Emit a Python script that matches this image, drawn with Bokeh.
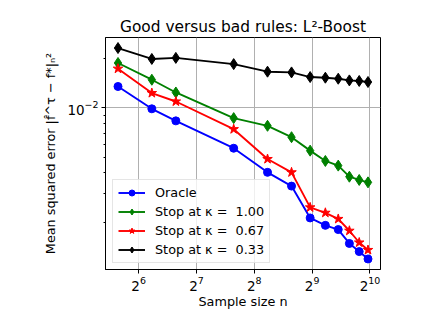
import numpy as np
from bokeh.plotting import figure
from bokeh.models import Range1d, LogTicker, LogTickFormatter, FixedTicker, Legend, LegendItem
from bokeh.embed import file_html
from bokeh.resources import INLINE

# ---- data ----
sample_sizes = [50, 75, 100, 200, 300, 400, 500, 600, 700, 800, 900, 1000]
oracle = [0.0135, 0.00986, 0.00832, 0.00566, 0.00403, 0.00332, 0.00212, 0.00191, 0.00180, 0.00148, 0.00132, 0.00119]
kappa_100 = [0.0188, 0.01485, 0.01241, 0.00865, 0.00776, 0.00661, 0.00547, 0.00473, 0.00443, 0.00379, 0.00362, 0.00350]
kappa_067 = [0.01735, 0.01231, 0.01093, 0.00740, 0.00486, 0.00403, 0.00246, 0.00228, 0.00209, 0.00177, 0.00150, 0.00135]
kappa_033 = [0.0232, 0.0199, 0.0202, 0.0185, 0.01663, 0.01646, 0.01542, 0.01528, 0.01506, 0.01471, 0.01459, 0.01438]

series_labels = ["Oracle", "Stop at κ =  1.00", "Stop at κ =  0.67", "Stop at κ =  0.33"]
series_values = [oracle, kappa_100, kappa_067, kappa_033]
series_colors = ["#0000ff", "#008000", "#ff0000", "#000000"]
series_markers = ["circle", "diamond", "star", "diamond"]
series_sizes = [8, 11, 10, 11]

y_major_ticks = [0.01]
y_minor_ticks = [0.002, 0.003, 0.004, 0.005, 0.006, 0.007, 0.008, 0.009, 0.02]

FONT = "DejaVu Sans"


def log_range(vals, base, margin=0.05):
    lo = np.log(min(vals)) / np.log(base)
    hi = np.log(max(vals)) / np.log(base)
    m = margin * (hi - lo)
    return Range1d(base ** (lo - m), base ** (hi + m))


all_y = [v for s in series_values for v in s]

p = figure(
    x_axis_type="log", y_axis_type="log",
    x_range=log_range(sample_sizes, 2), y_range=log_range(all_y, 10),
    frame_width=275, frame_height=232,
    min_border_left=105, min_border_right=35, min_border_top=37, min_border_bottom=40,
    output_backend="svg", toolbar_location=None,
    background_fill_color="white", border_fill_color="white",
)

p.title.text = "Good versus bad rules: L²-Boost"
p.title.text_font = FONT
p.title.text_font_size = "15.4px"
p.title.text_font_style = "normal"
p.title.align = "center"
p.title.text_color = "black"
p.title.standoff = 4

p.outline_line_color = "black"
p.outline_line_width = 1

# x axis: base-2 log ticks
xticker = LogTicker(base=2, mantissas=[1], num_minor_ticks=0)
p.xaxis.ticker = xticker
p.xaxis.formatter = LogTickFormatter(ticker=xticker)
p.xaxis.axis_label = "Sample size n"

# y axis: single major tick and minor ticks
p.yaxis.ticker = FixedTicker(ticks=y_major_ticks, minor_ticks=y_minor_ticks)
p.yaxis.formatter = LogTickFormatter()
p.yaxis.axis_label = "Mean squared error |f̂^τ − f*|ₙ²"

for ax in (p.xaxis, p.yaxis):
    ax.axis_label_text_font = FONT
    ax.axis_label_text_font_size = "12.8px"
    ax.axis_label_text_font_style = "normal"
    ax.axis_label_text_color = "black"
    ax.major_label_text_font = FONT
    ax.major_label_text_font_size = "13.5px"
    ax.major_label_text_color = "black"
    ax.axis_line_color = "black"
    ax.major_tick_line_color = "black"
    ax.minor_tick_line_color = "black"
    ax.major_tick_in = 0
    ax.major_tick_out = 4
    ax.minor_tick_in = 0
    ax.minor_tick_out = 2
    ax.axis_label_standoff = 6
    ax.major_label_standoff = 3
p.xaxis.minor_tick_line_color = None
p.xaxis.axis_label_standoff = 0
p.xaxis.major_label_standoff = 2

p.xgrid.grid_line_color = "#b0b0b0"
p.ygrid.grid_line_color = "#b0b0b0"
p.xgrid.grid_line_width = 1
p.ygrid.grid_line_width = 1

items = []
for label, vals, col, mk, sz in zip(series_labels, series_values, series_colors, series_markers, series_sizes):
    r1 = p.line(sample_sizes, vals, line_color=col, line_width=1.9)
    r2 = p.scatter(sample_sizes, vals, marker=mk, size=sz, fill_color=col, line_color=col)
    items.append(LegendItem(label=label, renderers=[r1, r2]))

legend = Legend(items=items, location=(7, 6))
legend.label_text_font = FONT
legend.label_text_font_size = "12.8px"
legend.label_text_color = "black"
legend.glyph_width = 27
legend.glyph_height = 15
legend.label_height = 15
legend.spacing = 4
legend.padding = 5
legend.margin = 0
legend.label_standoff = 10
legend.border_line_color = "#cccccc"
legend.border_line_width = 1
legend.background_fill_alpha = 0.8
p.add_layout(legend, "center")

open("out.html", "w").write(file_html(p, INLINE))
